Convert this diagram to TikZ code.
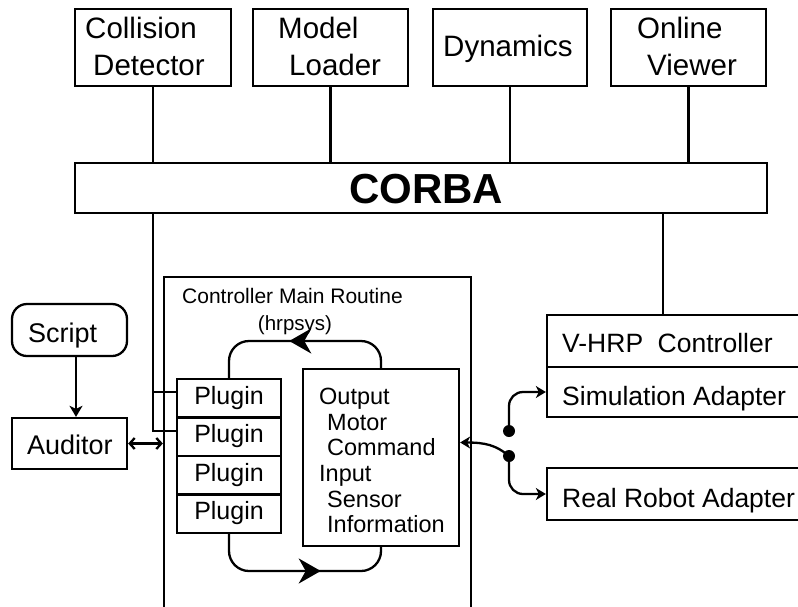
\documentclass[tikz,border=0pt]{standalone}
\usepackage{fontspec}
\setmainfont{Liberation Sans}
\usetikzlibrary{arrows.meta,decorations.markings,calc}

\tikzset{
  box/.style={draw, line width=2.3pt, rectangle, inner sep=0pt},
  plugbox/.style={box, minimum width=104pt, minimum height=38.5pt},
  txt/.style={anchor=base west, inner sep=0pt},
  toptxt/.style={txt, font=\fontsize{29.5}{30}\selectfont},
  mid/.style={font=\fontsize{26.5}{27}\selectfont},
  plugtxt/.style={anchor=base, inner sep=0pt, font=\fontsize{25}{26}\selectfont},
  iotxt/.style={txt, font=\fontsize{23.5}{24}\selectfont},
  wire/.style={line width=2.3pt},
  dot/.style={circle, fill, inner sep=0pt, minimum size=12pt},
  smallhead/.style={-{Stealth[length=10pt,width=12pt,inset=3pt]}},
  loopmark/.style={postaction={decorate, decoration={markings,
      mark=at position #1 with {\arrow{Stealth[length=22pt,width=25pt,inset=7pt]}}}}}
}

\begin{document}
\begin{tikzpicture}[x=1pt, y=-1pt, line join=miter]
  \clip (0,0) rectangle (798,606);

  % servers on the CORBA bus
  \node[box, minimum width=156pt, minimum height=77pt] (cd)  at (153,47.5) {};
  \node[box, minimum width=155pt, minimum height=77pt] (ml)  at (330.5,47.5) {};
  \node[box, minimum width=154pt, minimum height=77pt] (dyn) at (510,47.5) {};
  \node[box, minimum width=155pt, minimum height=77pt] (ov)  at (688.5,47.5) {};
  \node[toptxt] at (85,38)  {Collision};
  \node[toptxt] at (93,75)  {Detector};
  \node[toptxt] at (278,38) {Model};
  \node[toptxt] at (289,75) {Loader};
  \node[toptxt] at (443,56) {Dynamics};
  \node[toptxt] at (637,38) {Online};
  \node[toptxt] at (647,75) {Viewer};

  \node[box, minimum width=692pt, minimum height=50pt] (corba) at (421,188) {};
  \node[anchor=base, inner sep=0pt, font=\fontsize{42}{42}\bfseries\selectfont] at (426,203) {CORBA};

  \foreach \s in {cd,ml,dyn,ov}
    \draw[wire] (\s.south) -- (\s.south |- corba.north);

  % controller main routine
  \node[box, minimum width=307pt, minimum height=373pt] (main) at (317.5,463.5) {};
  \node[txt, font=\fontsize{21}{22}\selectfont] at (182,303) {Controller Main Routine};
  \node[anchor=base, inner sep=0pt, font=\fontsize{20.5}{21}\selectfont] at (295,330) {(hrpsys)};

  \node[plugbox] (p1) at (229,398.25) {};
  \node[plugbox] (p2) at (229,436.75) {};
  \node[plugbox] (p3) at (229,475.25) {};
  \node[plugbox] (p4) at (229,513.75) {};
  \node[plugtxt] at (229,404) {Plugin};
  \node[plugtxt] at (229,442.5) {Plugin};
  \node[plugtxt] at (229,481) {Plugin};
  \node[plugtxt] at (229,519.5) {Plugin};

  \node[box, minimum width=156pt, minimum height=177pt] (out) at (381,457.5) {};
  \node[iotxt] at (319,404) {Output};
  \node[iotxt] at (327,430) {Motor};
  \node[iotxt] at (327,455) {Command};
  \node[iotxt] at (319,481) {Input};
  \node[iotxt] at (327,507) {Sensor};
  \node[iotxt] at (327,532) {Information};

  % control loop between I/O and plugins
  \coordinate (looptop) at (300,341);
  \coordinate (loopbot) at (300,571);
  \draw[wire, rounded corners=20pt, loopmark=110pt]
    (out.north) -- (out.north |- looptop) -- (p1.north |- looptop) -- (p1.north);
  \draw[wire, rounded corners=20pt, loopmark=120pt]
    (p4.south) -- (p4.south |- loopbot) -- (out.south |- loopbot) -- (out.south);

  % CORBA taps
  \path ([yshift=6pt]p1.west) coordinate (p1in);
  \path ([yshift=5.5pt]p2.west) coordinate (p2in);
  \draw[wire] (cd.south |- corba.south) |- (p2in);
  \draw[wire] (p1in -| cd.south) -- (p1in);

  % script and auditor
  \node[box, rounded corners=15pt, minimum width=115pt, minimum height=52pt] (script) at (69.5,330) {};
  \node[txt, font=\fontsize{27}{28}\selectfont] at (28,342) {Script};
  \node[box, minimum width=115pt, minimum height=51pt] (auditor) at (69.5,443.5) {};
  \node[txt, font=\fontsize{27}{28}\selectfont] at (27,454) {Auditor};
  \draw[wire, -{Stealth[length=11pt,width=13pt,inset=3pt]}]
    ([xshift=6.5pt]script.south) -- ([xshift=6.5pt]auditor.north);
  \draw[wire, {Straight Barb[length=5pt,width=11pt]}-{Straight Barb[length=5pt,width=11pt]}]
    (auditor.east) -- (auditor.east -| main.west);

  % V-HRP controller side
  \node[box, minimum width=293pt, minimum height=52pt] (vhrp) at (693.5,341) {};
  \node[box, minimum width=293pt, minimum height=50pt] (sim)  at (693.5,392) {};
  \node[box, minimum width=293pt, minimum height=52pt] (real) at (693.5,494) {};
  \node[txt, mid] at (562,352) {V-HRP\hspace{0.55em}Controller};
  \node[txt, mid] at (562,405) {Simulation Adapter};
  \node[txt, mid] at (562,507) {Real Robot Adapter};
  \coordinate (ctap) at (663,213);
  \draw[wire] (ctap) -- (ctap |- vhrp.north);

  % switch between simulation and real robot
  \coordinate (d1) at (509,431);
  \coordinate (d2) at (509,456);
  \draw[wire, smallhead, rounded corners=14pt] (d1) |- (sim.west);
  \draw[wire, smallhead, rounded corners=14pt] (d2) |- (real.west);
  \draw[wire, smallhead] (d2) .. controls (496,445) and (485,442.5) .. ([yshift=15pt]out.east);
  \node[dot] (s1) at (d1) {};
  \node[dot] (s2) at (d2) {};
\end{tikzpicture}
\end{document}
